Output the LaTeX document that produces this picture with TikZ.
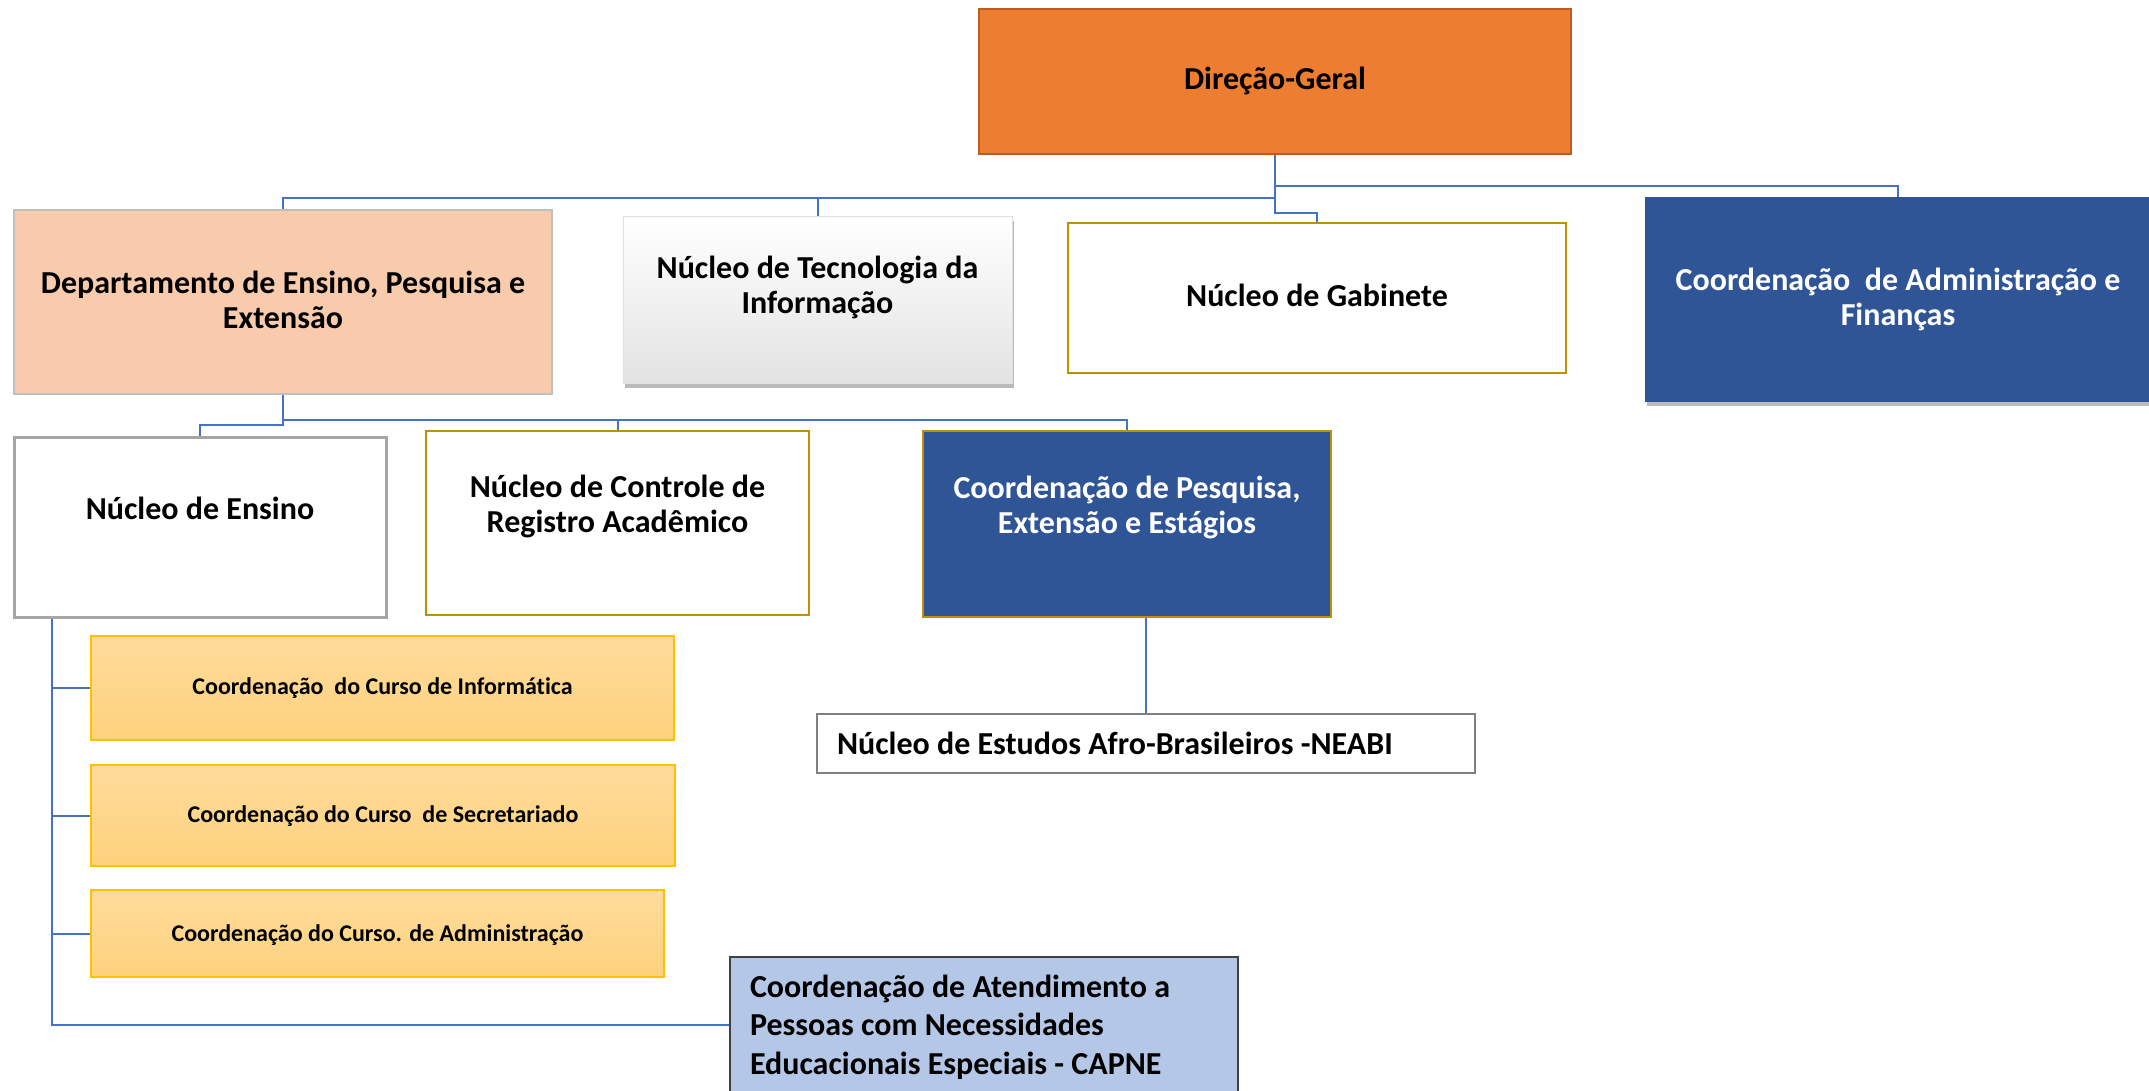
\documentclass[tikz,border=0pt]{standalone}
\usepackage{fontspec}
\setmainfont{Carlito}[Ligatures=NoCommon]
\usetikzlibrary{shadows}
\definecolor{linkblue}{HTML}{4472C4}
\definecolor{dgorange}{HTML}{ED7D31}
\definecolor{dgedge}{HTML}{BE5B1E}
\definecolor{deptpeach}{HTML}{F8CBAD}
\definecolor{navy}{HTML}{2F5597}
\definecolor{goldedge}{HTML}{BF9000}
\definecolor{cursotop}{HTML}{FFDB9C}
\definecolor{cursobot}{HTML}{FED27D}
\definecolor{cursoedge}{HTML}{FFC000}
\definecolor{capneblue}{HTML}{B4C7E7}
\tikzstyle{box}=[rectangle, draw, inner sep=0pt, align=center, font=\bfseries\fontsize{32}{35}\selectfont]
\tikzstyle{curso}=[box, font=\bfseries\fontsize{24}{28}\selectfont, draw=cursoedge, line width=1.5pt, top color=cursotop, bottom color=cursobot]
\tikzstyle{conn}=[draw=linkblue, line width=2pt]
\tikzstyle{shade}=[drop shadow={shadow xshift=2pt, shadow yshift=-5pt, fill=black!45, opacity=.6}]

\begin{document}
\begin{tikzpicture}[x=1pt, y=-1pt]
\useasboundingbox (0,0) rectangle (2149,1091);

% first level
\node[box, fill=dgorange, draw=dgedge, line width=2.5pt, minimum width=592pt, text height=81pt, text depth=64pt] (dg) at (1275,81.5) {Direção-Geral};
\node[box, fill=deptpeach, draw=black!25, line width=1.5pt, minimum width=538pt, text height=118pt, text depth=66pt] (dept) at (283,302) {Departamento de Ensino, Pesquisa e\\Extensão};
\node[box, shade, top color=white, bottom color=black!11, draw=black!12, line width=.5pt, minimum width=389pt, text height=97pt, text depth=70pt] (nti) at (817.5,299.5) {Núcleo de Tecnologia da\\Informação};
\node[box, fill=white, draw=goldedge, line width=2pt, minimum width=498pt, text height=83pt, text depth=67pt] (gab) at (1317,298) {Núcleo de Gabinete};
\node[box, shade, fill=navy, draw=navy, text=white, minimum width=506pt, text height=128pt, text depth=76pt] (caf) at (1898,299) {Coordenação\ \ de Administração e\\Finanças};

% second level
\node[box, fill=white, draw=black!35, line width=3pt, minimum width=372pt, text height=82pt, text depth=98pt] (ne) at (200,527) {Núcleo de Ensino};
\node[box, fill=white, draw=goldedge, line width=2pt, minimum width=383pt, text height=101pt, text depth=83pt] (ncra) at (617.5,523) {Núcleo de Controle de\\Registro Acadêmico};
\node[box, fill=navy, draw=goldedge, line width=2pt, text=white, minimum width=408pt, text height=102pt, text depth=84pt] (cpee) at (1127,524) {Coordenação de Pesquisa,\\Extensão e Estágios};

% cursos
\node[curso, minimum width=583pt, text height=58pt, text depth=46pt] (ci) at (382.5,688) {Coordenação\ \ do Curso de Informática};
\node[curso, minimum width=584pt, text height=57pt, text depth=44pt] (cs) at (383,815.5) {Coordenação do Curso\ \ de Secretariado};
\node[curso, minimum width=573pt, text height=51pt, text depth=36pt] (ca) at (377.5,933.5) {Coordenação do Curso. de Administração};

\node[box, align=flush left, fill=white, draw=black!50, line width=1.5pt, text width=618pt, inner xsep=20pt, text height=40pt, text depth=19pt] (neabi) at (1146,743.5) {Núcleo de Estudos Afro-Brasileiros -NEABI};
\node[box, align=flush left, fill=capneblue, draw=black!75, line width=1.5pt, font=\bfseries\fontsize{32}{38.5}\selectfont, text width=468pt, inner xsep=20pt, text height=40pt, text depth=96pt] (capne) at (984,1025) {Coordenação de Atendimento a\\Pessoas com Necessidades\\Educacionais Especiais - CAPNE};

% connectors
\coordinate (bus1) at (dg.south |- 0,198);
\draw[conn] (dg.south) -- (bus1) -| (dept.north);
\draw[conn] (nti.north) -- (nti.north |- bus1);
\draw[conn] (dg.south) -- ++(0,31) -| (caf.north);
\draw[conn] (dg.south) -- ++(0,58) -| (gab.north);

\coordinate (bus2) at (dept.south |- 0,420);
\draw[conn] (dept.south) -- (bus2) -| (cpee.north);
\draw[conn] (ncra.north) -- (ncra.north |- bus2);
\draw[conn] (bus2) -- ++(0,5) -| (ne.north);

\coordinate (spine) at ([xshift=39pt]ne.south west);
\draw[conn] (spine) |- (capne.west);
\foreach \c in {ci,cs,ca}
	\draw[conn] (\c.west) -- (\c.west -| spine);
\draw[conn] (neabi.north) -- (neabi.north |- cpee.south);
\end{tikzpicture}
\end{document}
